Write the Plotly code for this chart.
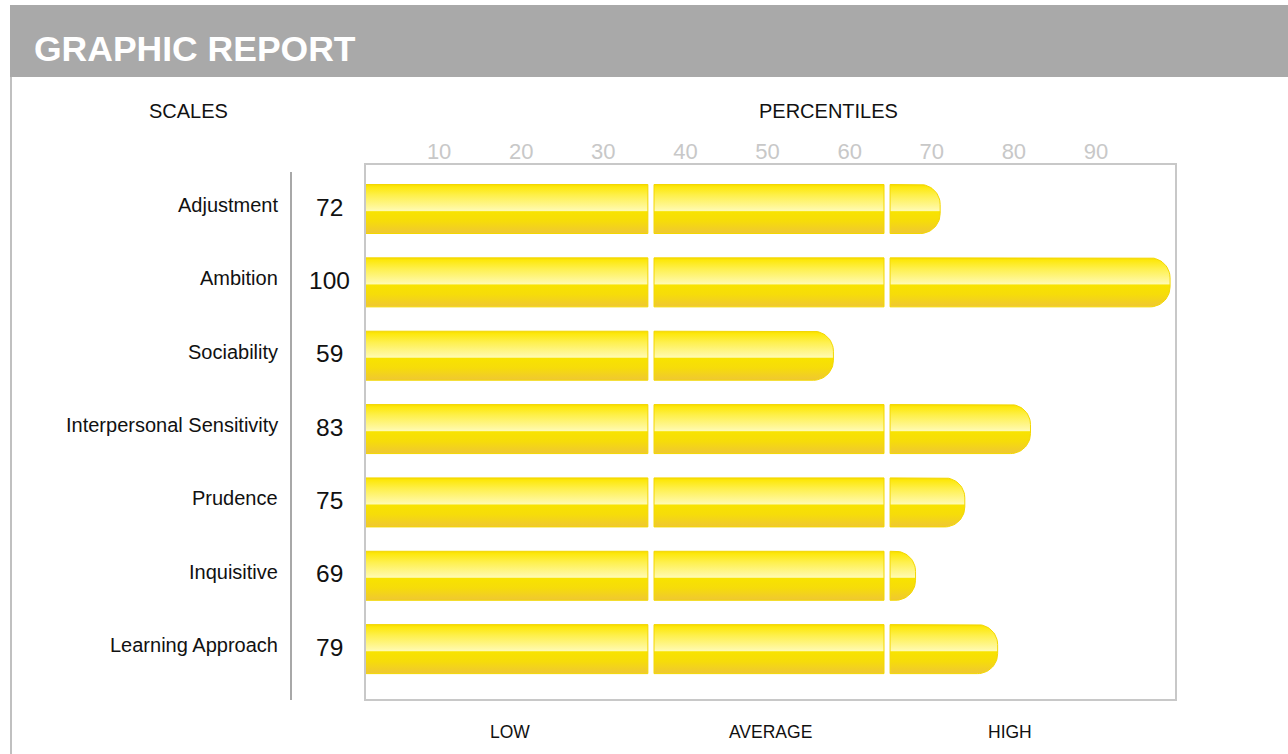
import numpy as np
import plotly.graph_objects as go

# ---------------- data ----------------
scales = ["Adjustment", "Ambition", "Sociability", "Interpersonal Sensitivity",
          "Prudence", "Inquisitive", "Learning Approach"]
scores = [72, 100, 59, 83, 75, 69, 79]
band_starts = [0, 37.15, 65.9]          # LOW / AVERAGE / HIGH segment starts (percentile)
band_ends = [36.4, 65.16, None]          # last segment ends at the score
tick_values = [10, 20, 30, 40, 50, 60, 70, 80, 90]
tick_labels = ["10", "20", "30", "40", "50", "60", "70", "80", "90"]
zone_labels = ["LOW", "AVERAGE", "HIGH"]

# ---------------- layout constants ----------------
W, H = 1288, 754
FONT = "Liberation Sans, Arial, Helvetica, sans-serif"
PLOT_L, PLOT_R, PLOT_T, PLOT_B = 366, 1175, 165, 699
X_RANGE = [2.07, 100.6]
Y_RANGE = [6.68, -0.6]
BAR_H = 0.668
R_PX = 20

KX = (PLOT_R - PLOT_L) / (X_RANGE[1] - X_RANGE[0])
KY = (PLOT_B - PLOT_T) / (Y_RANGE[0] - Y_RANGE[1])
RX = R_PX / KX
RY = R_PX / KY


def px(x):
    return x / W


def py(y):
    return 1 - y / H


colorscale = [
    [0.0, "#f6da00"],
    [0.05, "#fde80c"],
    [0.22, "#fef04c"],
    [0.48, "#fff8a0"],
    [0.53, "#fffbb2"],
    [0.555, "#f8e300"],
    [0.75, "#f6dc0a"],
    [1.0, "#efc733"],
]

fig = go.Figure()

for i, (name, score) in enumerate(zip(scales, scores)):
    top, bot = i - BAR_H / 2, i + BAR_H / 2
    xs, ys = [], []
    for s, e in zip(band_starts, band_ends):
        if s >= score:
            break
        rounded = e is None or score <= e
        end = score if rounded else e
        if rounded:
            phi1 = np.linspace(np.pi / 2, 0, 18)
            phi2 = np.linspace(0, -np.pi / 2, 18)
            cx = end - RX
            seg_x = [s] + list(cx + RX * np.cos(phi1)) + list(cx + RX * np.cos(phi2)) + [s, s]
            seg_y = ([top] + list(top + RY - RY * np.sin(phi1))
                     + list(bot - RY - RY * np.sin(phi2)) + [bot, top])
        else:
            seg_x = [s, end, end, s, s]
            seg_y = [top, top, bot, bot, top]
        xs += seg_x + [None]
        ys += seg_y + [None]
    fig.add_trace(go.Scatter(
        x=xs, y=ys, mode="lines", fill="toself",
        line=dict(color="#f3d700", width=1),
        fillgradient=dict(type="vertical", colorscale=colorscale, start=top, stop=bot),
        hoverinfo="skip", showlegend=False,
    ))

annotations = []
annotations.append(dict(text="<b>GRAPHIC REPORT</b>", x=px(32), y=py(49), xref="paper", yref="paper",
                        xanchor="left", yanchor="middle", showarrow=False,
                        font=dict(family=FONT, size=35.5, color="white")))
annotations.append(dict(text="SCALES", x=px(188), y=py(111), xref="paper", yref="paper",
                        xanchor="center", yanchor="middle", showarrow=False,
                        font=dict(family=FONT, size=20, color="#111111")))
annotations.append(dict(text="PERCENTILES", x=px(828), y=py(111), xref="paper", yref="paper",
                        xanchor="center", yanchor="middle", showarrow=False,
                        font=dict(family=FONT, size=20, color="#111111")))
for lab, xc in zip(zone_labels, [510, 770, 1010]):
    annotations.append(dict(text=lab, x=px(xc), y=py(732), xref="paper", yref="paper",
                            xanchor="center", yanchor="middle", showarrow=False,
                            font=dict(family=FONT, size=17.5, color="#111111")))
for i, (name, score) in enumerate(zip(scales, scores)):
    annotations.append(dict(text=name, x=px(280), y=i, xref="paper", yref="y",
                            xanchor="right", yanchor="middle", yshift=4, showarrow=False,
                            font=dict(family=FONT, size=20, color="#111111")))
    annotations.append(dict(text=str(score), x=px(329), y=i, xref="paper", yref="y",
                            xanchor="center", yanchor="middle", yshift=2, showarrow=False,
                            font=dict(family=FONT, size=24.5, color="#111111")))

shapes = [
    dict(type="rect", xref="paper", yref="paper", x0=px(10), x1=px(1290), y0=py(77), y1=py(5),
         fillcolor="#a9a9a9", line=dict(width=0), layer="below"),
    dict(type="line", xref="paper", yref="paper", x0=px(11), x1=px(11), y0=py(77), y1=py(756),
         line=dict(color="#c0c0c0", width=2)),
    dict(type="line", xref="paper", yref="paper", x0=px(291), x1=px(291), y0=py(172), y1=py(700),
         line=dict(color="#a8a8a8", width=2)),
]

fig.update_layout(
    width=W, height=H,
    margin=dict(l=0, r=0, t=0, b=0),
    paper_bgcolor="white", plot_bgcolor="white",
    annotations=annotations, shapes=shapes,
    xaxis=dict(domain=[px(PLOT_L), px(PLOT_R)], range=X_RANGE, side="top",
               tickmode="array", tickvals=tick_values, ticktext=tick_labels,
               tickfont=dict(family=FONT, size=22, color="#c8c8c8"), ticks="",
               ticklabelshift=8, ticklabelstandoff=-5,
               showgrid=False, zeroline=False, showline=True, mirror=True,
               linecolor="#c8c8c8", linewidth=2, fixedrange=True),
    yaxis=dict(domain=[py(PLOT_B), py(PLOT_T)], range=Y_RANGE, showticklabels=False,
               showgrid=False, zeroline=False, showline=True, mirror=True,
               linecolor="#c8c8c8", linewidth=2, fixedrange=True),
)

fig.write_html("out.html", config={"displayModeBar": False},
               post_script="document.body.style.margin='0';document.body.style.overflow='hidden';")
